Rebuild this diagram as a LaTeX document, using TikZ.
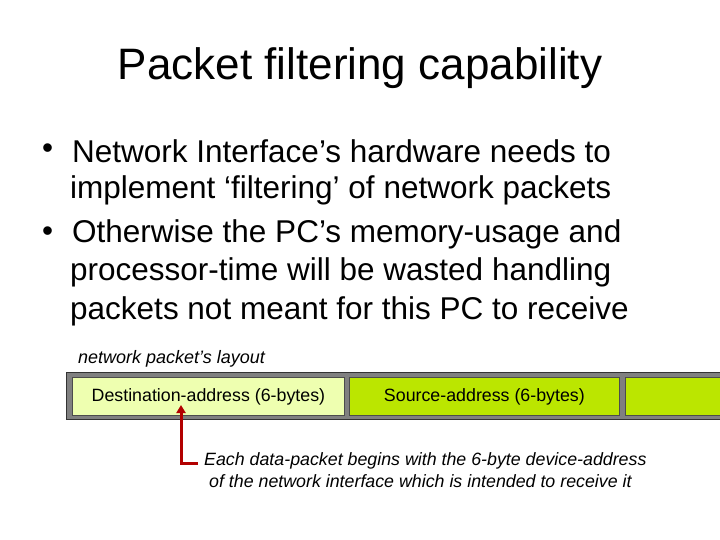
\documentclass[tikz,border=0pt]{standalone}
\usepackage{fontspec}
\setmainfont{Liberation Sans}
\usetikzlibrary{arrows.meta}
\definecolor{lightfld}{HTML}{EEFFB0}
\definecolor{darkfld}{HTML}{BBE600}
\begin{document}
\begin{tikzpicture}[x=1pt,y=-1pt,
  txt/.style={anchor=west,inner sep=0pt,font=\fontsize{31.5}{36}\selectfont},
  fld/.style={draw=black!70,line width=0.8pt,minimum height=38pt,anchor=north west,inner sep=0pt,font=\fontsize{17.8}{20}\selectfont}]
\useasboundingbox (0,0) rectangle (720,540);
\node (title) at (360,68) {\fontsize{44}{50}\selectfont Packet filtering capability};
\node[txt] (b1) at (42,151) {•};
\node[txt] (l1) at (72,151) {Network Interface’s hardware needs to};
\node[txt] (l2) at (70,190) {implement ‘filtering’ of network packets};
\node[txt] (b2) at (42,234) {•};
\node[txt] (l3) at (72,234) {Otherwise the PC’s memory-usage and};
\node[txt] (l4) at (70,272) {processor-time will be wasted handling};
\node[txt] (l5) at (70,311) {packets not meant for this PC to receive};
\node[anchor=west,inner sep=0pt,font=\fontsize{18}{20}\selectfont\itshape] (lay) at (78,359) {network packet’s layout};
\fill[fill=black!50,draw=black!80] (66,372) rectangle (725,419);
\node[fld,fill=lightfld,minimum width=272pt] (d) at (72,377) {Destination-address (6-bytes)};
\node[fld,fill=darkfld,minimum width=270pt] (s) at (349,377) {Source-address (6-bytes)};
\node[fld,fill=darkfld,minimum width=110pt] (r) at (625,377) {};
\coordinate (tip) at (181,405);
\coordinate (corner) at (181,463);
\coordinate (end) at (198,463);
\draw[red!70!black,line width=3pt,-{Triangle[length=8pt,width=9pt]}] (end) -- (corner) -- (tip);
\node[anchor=west,inner sep=0pt,align=left,font=\fontsize{17.8}{22}\selectfont\itshape] (note) at (204,470) {Each data-packet begins with the 6-byte device-address\\\ of the network interface which is intended to receive it};
\end{tikzpicture}
\end{document}
